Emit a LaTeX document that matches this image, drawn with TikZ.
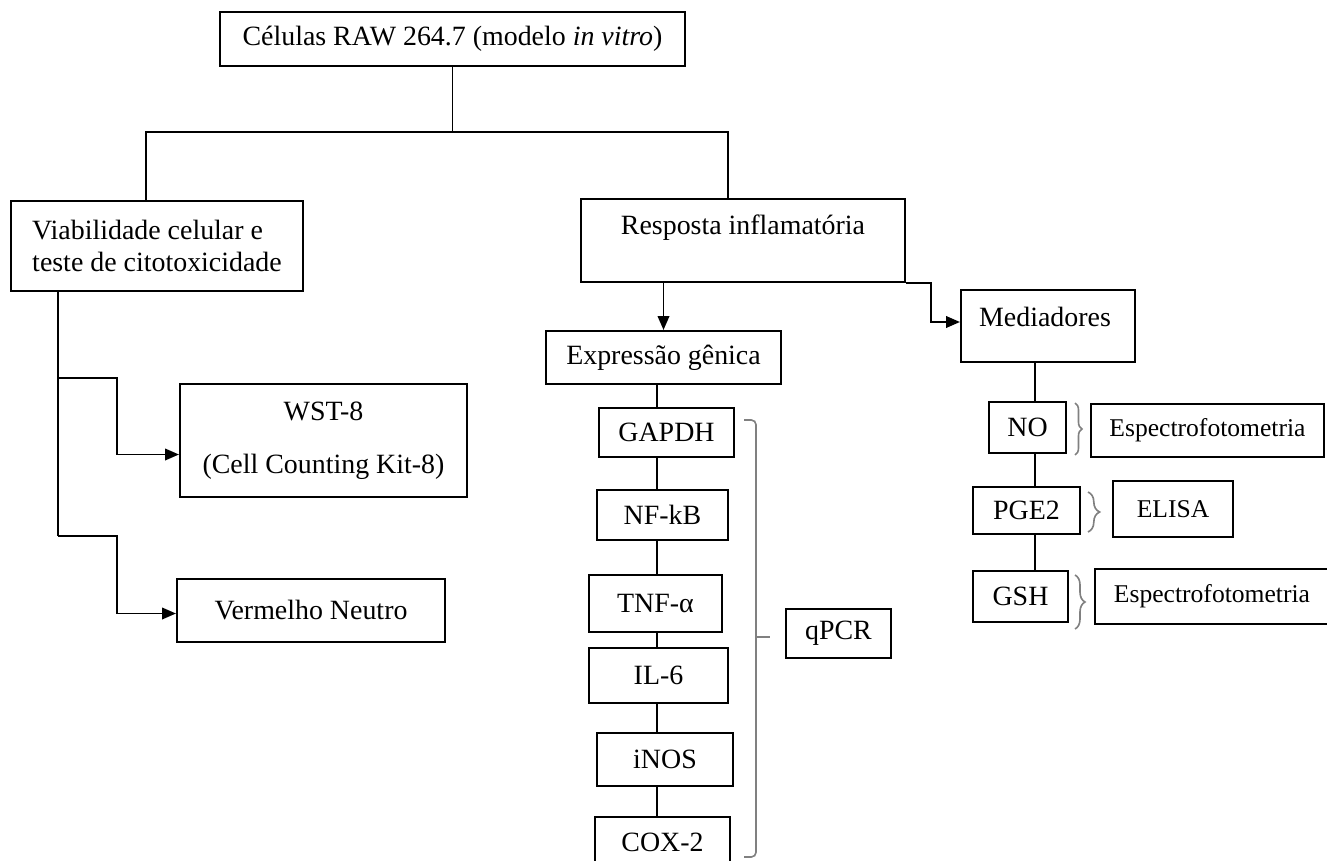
\documentclass[tikz,border=0pt]{standalone}
\usepackage{fontspec}
\setmainfont{Liberation Serif}
\usetikzlibrary{positioning, calc, arrows.meta, decorations.pathreplacing}
\newcommand{\px}{0.43pt}

\begin{document}
\begin{tikzpicture}[
    x=\px, y=-\px,
    every node/.style={font=\fontsize{12}{14}\selectfont},
    box/.style 2 args={rectangle, draw, line width=0.9pt, inner sep=0pt, minimum width=#1*\px, minimum height=#2*\px},
    method/.style={font=\fontsize{11}{13}\selectfont},
    link/.style={line width=0.8pt},
    arr/.style={-{Triangle[length=6pt, width=5pt]}, line width=0.8pt},
    bkt/.style={draw=gray, line width=0.7pt, rounded corners=2pt},
    brc/.style={draw=gray, line width=0.7pt, decorate, decoration={brace, amplitude=#1}}
]
    \useasboundingbox (0,0) rectangle (1327,861);

    % Top
    \node[box={465}{54}] (cells) at (452.5,39) {Células RAW 264.7 (modelo \textit{in vitro})};

    % Two branches
    \node[box={292}{90}, align=left] (viab) at (157,246) {Viabilidade celular e\\teste de citotoxicidade};
    \node[box={324}{83}] (resp) at (743,240.5) {};
    \node (resptxt) at (743,228) {Resposta inflamatória};

    % Viability tests
    \node[box={287}{113}, align=center] (wst) at (323.5,440.5) {WST-8\\[9pt](Cell Counting Kit-8)};
    \node[box={268}{63}] (verm) at (311,610.5) {Vermelho Neutro};

    % Gene expression
    \node[box={235}{53}] (expr) at (663.5,357.5) {Expressão gênica};
    \node[box={135}{49}] (gapdh) at (666.5,432.5) {GAPDH};
    \node[box={131}{50}] (nfkb) at (662.5,515) {NF-kB};
    \node[box={133}{57}] (tnf) at (655.5,603.5) {TNF-α};
    \node[box={139}{55}] (il6) at (658.5,675.5) {IL-6};
    \node[box={136}{53}] (inos) at (665,759.5) {iNOS};
    \node[box={135}{50}] (cox) at (662.5,842) {COX-2};
    \node[box={105}{49}] (qpcr) at (838.5,633.5) {qPCR};

    % Mediators
    \node[box={174}{72}] (med) at (1048,326) {};
    \node (medtxt) at (1045,317) {Mediadores};
    \node[box={77}{51}] (no) at (1027.5,427.5) {NO};
    \node[box={107}{47}] (pge) at (1026.5,510.5) {PGE2};
    \node[box={95}{51}] (gsh) at (1020.5,596.5) {GSH};
    \node[box={233}{53}, method] (esp1) at (1207.5,430.5) {Espectrofotometria};
    \node[box={120}{56}, method] (elisa) at (1173,509) {ELISA};
    \node[box={234}{55}, method] (esp2) at (1212,596.5) {Espectrofotometria};

    % Split under the top box
    \coordinate (lsplit) at (146,132);
    \coordinate (rsplit) at (728,132);
    \draw[link] (cells.south) -- (cells.south |- lsplit);
    \draw[link] (viab.north -| lsplit) -- (lsplit) -- (rsplit) -- (resp.north -| rsplit);

    % Viability branches
    \coordinate (b1) at (58,378);
    \coordinate (b2) at (58,536);
    \coordinate (elbow) at (117,0);
    \coordinate (wstin) at ($(wst.west)+(0,14)$);
    \coordinate (vermin) at ($(verm.west)+(0,3)$);
    \draw[link] (viab.south -| b1) -- (b2);
    \draw[arr] (b1) -| (wstin -| elbow) -- (wstin);
    \draw[arr] (b2) -| (vermin -| elbow) -- (vermin);

    % Inflammatory response
    \coordinate (medin) at ($(med.west)+(0,-4)$);
    \draw[arr] (resp.south -| expr.north) -- (expr.north);
    \draw[arr] (resp.south east) -- ++(25,0) |- (medin);

    % Chains
    \coordinate (gcol) at (657,0);
    \foreach \up/\dn in {expr/gapdh, gapdh/nfkb, nfkb/tnf, tnf/il6, il6/inos, inos/cox}
        \draw[link] (\up.south -| gcol) -- (\dn.north -| gcol);
    \coordinate (mcol) at (1035,0);
    \foreach \up/\dn in {med/no, no/pge, pge/gsh}
        \draw[link] (\up.south -| mcol) -- (\dn.north -| mcol);

    % Braces
    \draw[bkt] (744,420) -- (756,420) -- (756,857) -- (744,857);
    \draw[bkt] (756,637) -- (770,637);
    \draw[brc=3pt] (1075,403) -- (1075,455);
    \draw[brc=5pt] (1088,492) -- (1088,532);
    \draw[brc=4.3pt] (1075,575) -- (1075,629);
\end{tikzpicture}
\end{document}
